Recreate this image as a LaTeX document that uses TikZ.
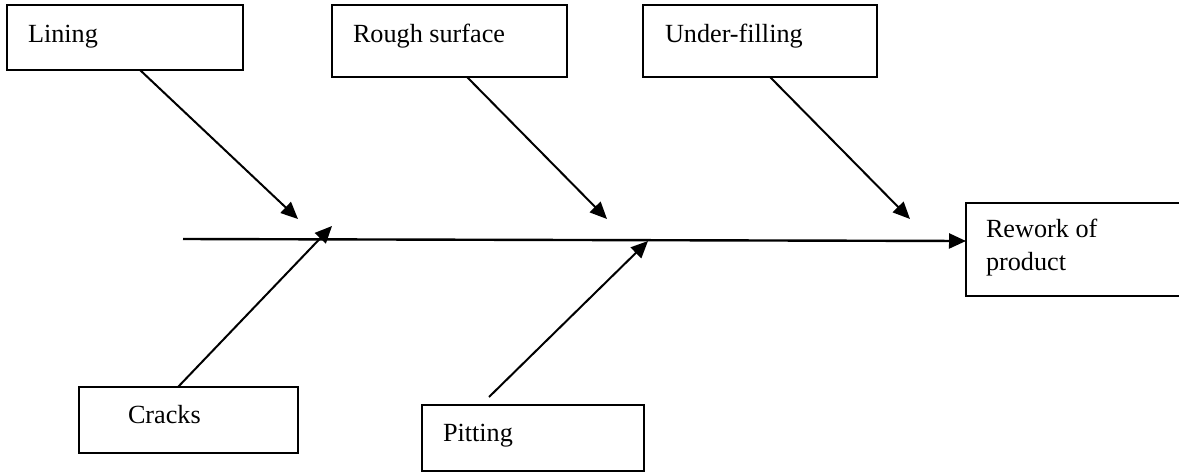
\documentclass[tikz,border=0pt]{standalone}
\usepackage{fontspec}
\setmainfont{Liberation Serif}
\usetikzlibrary{arrows.meta,calc}
\tikzset{
  box/.style={draw=black, line width=1.6pt, anchor=north west, inner sep=0pt, outer sep=0pt},
  lbl/.style={anchor=base west, inner sep=0pt, outer sep=0pt, font=\fontsize{26.2}{31}\selectfont},
  bone/.style={line width=2pt, -{Triangle[length=17pt,width=15pt]}},
  spine/.style={line width=2.4pt, -{Triangle[length=17pt,width=15pt]}}
}
\begin{document}
\begin{tikzpicture}[x=1pt,y=-1pt]
\useasboundingbox (0,0) rectangle (1179,472);
\clip (0,0) rectangle (1179,472);
% boxes
\node[box, minimum width=236pt, minimum height=65pt] (lin) at (7,5) {};
\node[box, minimum width=235pt, minimum height=72pt] (rough) at (332,5) {};
\node[box, minimum width=234pt, minimum height=72pt] (under) at (643,5) {};
\node[box, minimum width=230pt, minimum height=93pt] (rew) at (966,203) {};
\node[box, minimum width=219pt, minimum height=66pt] (crk) at (79,387) {};
\node[box, minimum width=222pt, minimum height=66pt] (pit) at (422,405) {};
% labels
\node[lbl] (lin-t) at (28,42) {Lining};
\node[lbl] (rough-t) at (353,42) {Rough surface};
\node[lbl] (under-t) at (665,42) {Under-filling};
\node[lbl] (rew-t1) at (986,237) {Rework of};
\node[lbl] (rew-t2) at (986,270) {product};
\node[lbl] (crk-t) at (128,423) {Cracks};
\node[lbl] (pit-t) at (443,441) {Pitting};
% tips
\coordinate (tail) at (183,239);
\coordinate (tLin) at (298,219);
\coordinate (tRough) at (607,219);
\coordinate (tUnder) at (910,219);
\coordinate (tCrk) at (332,226);
\coordinate (tPit) at (648,241);
% spine
\draw[spine] (tail) -- ($(rew.north west)+(0,38)$);
% bones
\draw[bone] ($(lin.south west)+(133,0)$) -- (tLin);
\draw[bone] ($(rough.south west)+(135,0)$) -- (tRough);
\draw[bone] ($(under.south west)+(127,0)$) -- (tUnder);
\draw[bone] ($(crk.north west)+(99,0)$) -- (tCrk);
\draw[bone] ($(pit.north west)+(67,-8)$) -- (tPit);
\end{tikzpicture}
\end{document}
